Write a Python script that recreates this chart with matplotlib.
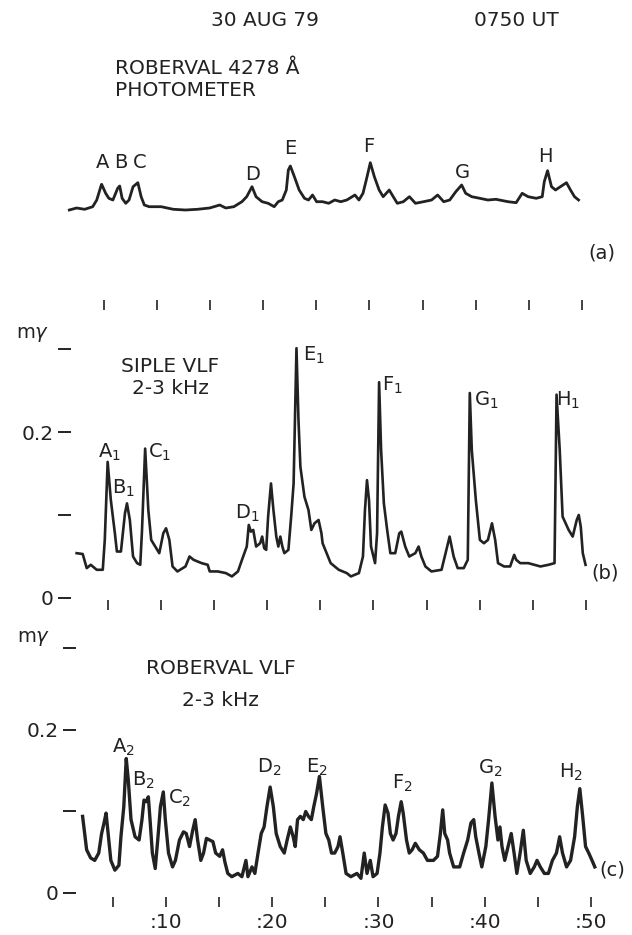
import matplotlib
matplotlib.use('Agg')
import matplotlib.pyplot as plt

plt.rcParams['font.family'] = ['DejaVu Sans']
plt.rcParams['mathtext.fontset'] = 'dejavusans'

W, H = 632, 935
INK = '#222222'

# ---------------- data (minutes after 0750 UT) ----------------
# (a) Roberval 4278 A photometer, arbitrary units
phot_t = [1.74, 2.42, 3.18, 3.94, 4.32, 4.70, 4.78, 5.16, 5.46, 5.84, 6.29, 6.48, 6.71, 7.05,
          7.36, 7.74, 8.19, 8.50, 8.80, 9.26, 10.39, 11.53, 12.67, 13.81, 14.95, 15.90, 16.47,
          17.23, 17.99, 18.44, 18.94, 19.32, 19.89, 20.46, 21.03, 21.41, 21.79, 22.17, 22.36,
          22.55, 22.93, 23.38, 23.88, 24.26, 24.64, 25.02, 25.59, 26.16, 26.73, 27.30, 27.87,
          28.63, 29.01, 29.39, 29.70, 30.08, 30.46, 30.91, 31.29, 31.86, 32.24, 32.62, 33.19,
          33.76, 34.33, 35.09, 35.85, 36.42, 36.99, 37.56, 38.13, 38.68, 39.06, 39.63, 40.39,
          41.15, 41.91, 43.05, 43.81, 44.38, 44.94, 45.70, 46.27, 46.46, 46.77, 47.14, 47.52,
          47.98, 48.55, 48.93, 49.31, 49.69]
phot_v = [-0.2, 0.0, -0.13, 0.13, 0.8, 2.13, 2.37, 1.47, 0.97, 0.8, 1.97, 2.2, 0.97, 0.47,
          0.8, 2.13, 2.53, 1.13, 0.3, 0.13, 0.13, -0.13, -0.2, -0.13, 0.0, 0.3, 0.0,
          0.13, 0.63, 1.13, 2.13, 1.13, 0.63, 0.47, 0.13, 0.63, 0.8, 1.8, 3.8,
          4.2, 3.13, 1.8, 0.97, 0.8, 1.3, 0.63, 0.63, 0.47, 0.8, 0.63, 0.8,
          1.3, 0.8, 1.47, 2.8, 4.53, 3.13, 1.8, 1.13, 1.8, 1.13, 0.47, 0.63,
          1.13, 0.47, 0.63, 0.8, 1.3, 0.63, 0.8, 1.63, 2.3, 1.47, 1.13, 0.97,
          0.8, 0.87, 0.63, 0.53, 1.47, 1.13, 0.97, 1.13, 2.63, 3.73, 2.13, 1.8,
          2.13, 2.53, 1.8, 1.13, 0.8]

# (b) Siple VLF 2-3 kHz, m-gamma
siple_t = [2.05, 2.62, 3.00, 3.38, 3.94, 4.51, 4.70, 4.97, 5.27, 5.65, 5.84, 6.22, 6.60, 6.79,
           7.06, 7.36, 7.74, 8.04, 8.20, 8.50, 8.80, 9.07, 9.45, 9.83, 10.21, 10.47, 10.78,
           11.08, 11.54, 12.30, 12.68, 13.06, 13.82, 14.39, 14.58, 15.34, 16.10, 16.67, 17.24,
           17.62, 18.07, 18.26, 18.45, 18.68, 18.95, 19.33, 19.52, 19.71, 19.90, 20.08, 20.35,
           20.58, 20.85, 21.04, 21.23, 21.42, 21.61, 21.99, 22.25, 22.48, 22.75, 22.94, 23.12,
           23.50, 23.88, 24.15, 24.45, 24.83, 25.10, 25.21, 25.59, 25.97, 26.73, 27.49, 27.87,
           28.63, 29.01, 29.20, 29.39, 29.58, 29.77, 30.15, 30.34, 30.53, 30.72, 30.98, 31.29,
           31.59, 32.05, 32.43, 32.62, 32.99, 33.37, 33.94, 34.25, 34.51, 34.89, 35.46, 36.41,
           36.79, 37.17, 37.55, 37.93, 38.50, 38.88, 39.07, 39.26, 39.64, 40.02, 40.40, 40.78,
           41.16, 41.46, 41.73, 42.30, 42.87, 43.25, 43.44, 43.82, 44.58, 45.72, 46.48, 47.05,
           47.24, 47.54, 47.81, 48.38, 48.76, 49.14, 49.33, 49.52, 49.71, 49.97]
siple_v = [0.054, 0.053, 0.036, 0.040, 0.034, 0.034, 0.070, 0.164, 0.118, 0.078, 0.056, 0.056,
           0.102, 0.114, 0.094, 0.050, 0.042, 0.040, 0.080, 0.180, 0.106, 0.070, 0.062, 0.054,
           0.078, 0.084, 0.070, 0.038, 0.032, 0.038, 0.050, 0.046, 0.042, 0.040, 0.032, 0.032,
           0.030, 0.026, 0.032, 0.046, 0.062, 0.088, 0.080, 0.082, 0.062, 0.066, 0.074, 0.060,
           0.058, 0.098, 0.138, 0.106, 0.074, 0.062, 0.074, 0.062, 0.054, 0.058, 0.098, 0.138,
           0.301, 0.214, 0.158, 0.122, 0.106, 0.082, 0.090, 0.094, 0.078, 0.066, 0.054, 0.042,
           0.034, 0.030, 0.026, 0.030, 0.050, 0.106, 0.142, 0.118, 0.062, 0.042, 0.078, 0.260,
           0.178, 0.114, 0.082, 0.054, 0.054, 0.078, 0.080, 0.062, 0.050, 0.054, 0.062, 0.050,
           0.038, 0.032, 0.034, 0.054, 0.074, 0.050, 0.036, 0.036, 0.046, 0.247, 0.178, 0.118,
           0.070, 0.066, 0.070, 0.090, 0.070, 0.042, 0.038, 0.038, 0.052, 0.046, 0.042, 0.042,
           0.038, 0.040, 0.042, 0.245, 0.178, 0.098, 0.082, 0.074, 0.094, 0.100, 0.086, 0.054,
           0.040]

# (c) Roberval VLF 2-3 kHz, m-gamma
rob_t = [2.14, 2.33, 2.52, 2.90, 3.28, 3.66, 3.93, 4.16, 4.35, 4.54, 4.80, 5.18, 5.56, 5.75,
         6.02, 6.25, 6.44, 6.70, 7.08, 7.46, 7.73, 7.92, 8.11, 8.33, 8.49, 8.71, 8.98, 9.24,
         9.47, 9.74, 9.93, 10.23, 10.61, 10.88, 11.26, 11.64, 11.90, 12.21, 12.51, 12.74, 12.97,
         13.27, 13.53, 13.80, 14.10, 14.41, 14.67, 15.05, 15.32, 15.54, 15.81, 16.19, 16.76,
         17.14, 17.52, 17.71, 18.09, 18.36, 18.66, 18.96, 19.23, 19.50, 19.80, 20.10, 20.37,
         20.75, 21.13, 21.40, 21.70, 21.97, 22.16, 22.38, 22.65, 22.92, 23.15, 23.41, 23.68,
         23.91, 24.17, 24.44, 24.75, 25.05, 25.32, 25.58, 25.88, 26.19, 26.38, 26.64, 26.95,
         27.40, 27.97, 28.35, 28.66, 28.92, 29.23, 29.49, 29.87, 30.14, 30.37, 30.63, 30.90,
         31.12, 31.38, 31.65, 31.88, 32.14, 32.33, 32.64, 32.90, 33.17, 33.47, 33.85, 34.23,
         34.61, 35.18, 35.56, 35.83, 36.05, 36.24, 36.51, 36.70, 37.08, 37.65, 38.02, 38.40,
         38.71, 38.97, 39.16, 39.46, 39.73, 40.11, 40.37, 40.68, 40.98, 41.25, 41.44, 41.63,
         41.89, 42.20, 42.50, 42.77, 43.03, 43.34, 43.64, 43.91, 44.29, 44.67, 44.93, 45.24,
         45.62, 46.00, 46.38, 46.76, 47.06, 47.33, 47.71, 48.09, 48.47, 48.73, 48.96, 49.23,
         49.50, 49.80, 50.11, 50.37]
rob_v = [0.094, 0.073, 0.053, 0.043, 0.040, 0.049, 0.073, 0.086, 0.098, 0.073, 0.040, 0.028,
         0.034, 0.069, 0.106, 0.165, 0.139, 0.090, 0.069, 0.065, 0.090, 0.114, 0.112, 0.118,
         0.090, 0.049, 0.030, 0.069, 0.106, 0.124, 0.090, 0.049, 0.032, 0.040, 0.065, 0.075,
         0.073, 0.057, 0.077, 0.090, 0.065, 0.040, 0.049, 0.067, 0.065, 0.063, 0.049, 0.045,
         0.053, 0.038, 0.024, 0.020, 0.024, 0.020, 0.040, 0.020, 0.032, 0.024, 0.049, 0.073,
         0.081, 0.106, 0.130, 0.106, 0.073, 0.057, 0.049, 0.065, 0.081, 0.069, 0.057, 0.090,
         0.094, 0.090, 0.100, 0.094, 0.090, 0.106, 0.122, 0.143, 0.106, 0.073, 0.065, 0.049,
         0.049, 0.057, 0.069, 0.049, 0.024, 0.020, 0.024, 0.018, 0.049, 0.024, 0.040, 0.020,
         0.024, 0.049, 0.081, 0.108, 0.098, 0.073, 0.065, 0.073, 0.094, 0.112, 0.098, 0.065,
         0.049, 0.053, 0.061, 0.053, 0.049, 0.040, 0.040, 0.045, 0.073, 0.102, 0.073, 0.065,
         0.049, 0.032, 0.032, 0.049, 0.065, 0.086, 0.090, 0.069, 0.049, 0.032, 0.057, 0.090,
         0.135, 0.094, 0.065, 0.081, 0.057, 0.040, 0.057, 0.073, 0.049, 0.024, 0.049, 0.077,
         0.040, 0.024, 0.032, 0.040, 0.032, 0.024, 0.024, 0.040, 0.049, 0.069, 0.049, 0.032,
         0.040, 0.069, 0.106, 0.128, 0.094, 0.057, 0.049, 0.040, 0.032]

minute_ticks = [5, 10, 15, 20, 25, 30, 35, 40, 45, 50]
minute_labels = ['', ':10', '', ':20', '', ':30', '', ':40', '', ':50']
my_ticks = [0.0, 0.1, 0.2, 0.3]
my_labels = ['0', '', '0.2', '']

# ---------------- figure ----------------
fig = plt.figure(figsize=(W / 100, H / 100), dpi=100)
fig.patch.set_facecolor('white')


def add_ax(left, right, top, bottom):
    return fig.add_axes([left / W, 1 - bottom / H, (right - left) / W, (bottom - top) / H])


def ftext(x, y, s, size=14.5, ha='center', va='center'):
    fig.text(x / W, 1 - y / H, s, fontsize=size, ha=ha, va=va, color=INK)


FS = 14.5
PFS = 14

# panel (a)
axa = add_ax(66.8, 603.1, 130, 310)
axa.plot(phot_t, phot_v, color=INK, lw=2.0, solid_joinstyle='round')
axa.set_xlim(1.5, 52)
axa.set_ylim(-10.2, 7.8)

# panel (b)
axb = add_ax(70.8, 607.1, 330, 610)
axb.plot(siple_t, siple_v, color=INK, lw=1.9, solid_joinstyle='round')
axb.set_xlim(1.5, 52)
axb.set_ylim(-0.01446, 0.3229)

# panel (c)
axc = add_ax(75.8, 612.1, 625, 907)
axc.plot(rob_t, rob_v, color=INK, lw=2.4, solid_joinstyle='round')
axc.set_xlim(1.5, 52)
axc.set_ylim(-0.01718, 0.3288)

for ax in (axa, axb, axc):
    ax.set_facecolor('none')
    for s in ax.spines.values():
        s.set_visible(False)
    ax.set_xticks(minute_ticks)
    ax.tick_params(axis='x', direction='in', length=7.2, width=1.2, color=INK,
                   labelsize=FS, labelcolor=INK, pad=4.0)

axa.set_xticklabels([''] * len(minute_ticks))
axa.set_yticks([])
axb.set_xticklabels([''] * len(minute_ticks))
axc.set_xticklabels(minute_labels)

for ax in (axb, axc):
    ax.set_yticks(my_ticks)
    ax.set_yticklabels(my_labels)
    ax.tick_params(axis='y', direction='out', length=9.5, width=1.4, color=INK,
                   labelsize=FS, labelcolor=INK, pad=3.0)

# ---------------- texts ----------------
ftext(265, 20, '30 AUG 79')
ftext(516, 20, '0750 UT')
ftext(115, 68, 'ROBERVAL 4278 Å', ha='left')
ftext(115, 91, 'PHOTOMETER', ha='left')

for lab, x, y in [('A', 103, 163), ('B', 121, 163), ('C', 140, 163), ('D', 253, 175),
                  ('E', 290, 148), ('F', 369, 147), ('G', 462, 172), ('H', 545, 157)]:
    ftext(x, y, lab, size=PFS)
ftext(602, 253, '(a)', size=PFS)

ftext(33, 334, 'm$\\gamma$', size=PFS)
ftext(170, 367, 'SIPLE VLF')
ftext(170, 388, '2-3 kHz')
for lab, x, y in [('A', 109, 452), ('B', 123, 488), ('C', 160, 452), ('D', 247, 513),
                  ('E', 314, 355), ('F', 392, 385), ('G', 486, 400), ('H', 568, 400)]:
    ftext(x, y, lab + '$_1$', size=PFS)
ftext(605, 573, '(b)', size=PFS)

ftext(34, 638, 'm$\\gamma$', size=PFS)
ftext(221, 668, 'ROBERVAL VLF')
ftext(220, 700, '2-3 kHz')
for lab, x, y in [('A', 123, 747), ('B', 143, 780), ('C', 180, 798), ('D', 269, 767),
                  ('E', 317, 767), ('F', 402, 783), ('G', 490, 768), ('H', 571, 772)]:
    ftext(x, y, lab + '$_2$', size=PFS)
ftext(612, 870, '(c)', size=PFS)

fig.savefig('out.png', dpi=100, facecolor='white')
